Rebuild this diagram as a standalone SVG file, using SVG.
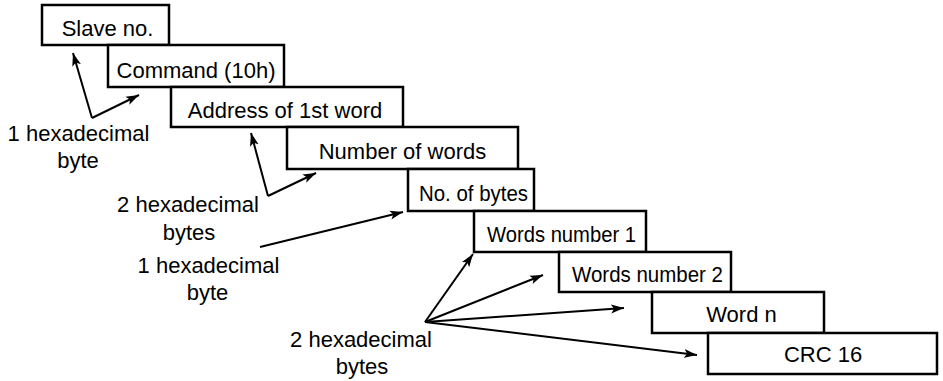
<svg xmlns="http://www.w3.org/2000/svg" width="943" height="381" viewBox="0 0 943 381">
<style>
  .box rect { fill: #fff; stroke: #000; stroke-width: 2.5; }
  text { font-family: "Liberation Sans", Arial, sans-serif; font-size: 22px; fill: #000; text-anchor: middle; }
  .conn line { stroke: #000; stroke-width: 2; marker-end: url(#arr); }
</style>
<defs>
  <marker id="arr" markerUnits="userSpaceOnUse" markerWidth="14" markerHeight="10" refX="13" refY="5" orient="auto">
    <path d="M0,0.5 L13,5 L0,9.5 L3,5 Z" fill="#000"/>
  </marker>
</defs>
<rect width="943" height="381" fill="#fff"/>
<g id="n1" class="box"><rect x="42" y="5" width="127" height="40"/><text x="107.5" y="36">Slave no.</text></g>
<g id="n2" class="box"><rect x="108" y="45" width="176" height="42"/><text x="196" y="78">Command (10h)</text></g>
<g id="n3" class="box"><rect x="171" y="87" width="232" height="40"/><text x="285" y="118">Address of 1st word</text></g>
<g id="n4" class="box"><rect x="287" y="127" width="231" height="42"/><text x="402.5" y="159">Number of words</text></g>
<g id="n5" class="box"><rect x="408" y="169" width="126" height="42"/><text x="473.5" y="201" textLength="109" lengthAdjust="spacingAndGlyphs">No. of bytes</text></g>
<g id="n6" class="box"><rect x="474" y="211" width="172" height="41"/><text x="561.5" y="242" textLength="149" lengthAdjust="spacingAndGlyphs">Words number 1</text></g>
<g id="n7" class="box"><rect x="559" y="252" width="172" height="40"/><text x="647.5" y="282" textLength="151" lengthAdjust="spacingAndGlyphs">Words number 2</text></g>
<g id="n8" class="box"><rect x="652" y="292" width="172" height="41"/><text x="741.5" y="322">Word n</text></g>
<g id="n9" class="box"><rect x="708" y="333" width="229" height="41"/><text x="823" y="362">CRC 16</text></g>
<g id="labels">
  <text x="78.5" y="141">1 hexadecimal</text><text x="78" y="168">byte</text>
  <text x="188" y="212">2 hexadecimal</text><text x="189" y="240">bytes</text>
  <text x="208.5" y="273">1 hexadecimal</text><text x="207.5" y="300">byte</text>
  <text x="361" y="347">2 hexadecimal</text><text x="362" y="374">bytes</text>
</g>
<g id="connectors" class="conn">
  <line x1="92" y1="118" x2="73" y2="53"/>
  <line x1="92" y1="118" x2="139" y2="95"/>
  <line x1="268" y1="196" x2="251" y2="133"/>
  <line x1="268" y1="196" x2="316" y2="173"/>
  <line x1="260" y1="247" x2="403" y2="212"/>
  <line x1="425" y1="322" x2="473" y2="254"/>
  <line x1="425" y1="322" x2="543" y2="275"/>
  <line x1="425" y1="322" x2="624" y2="308"/>
  <line x1="425" y1="322" x2="697" y2="355"/>
</g>
</svg>
